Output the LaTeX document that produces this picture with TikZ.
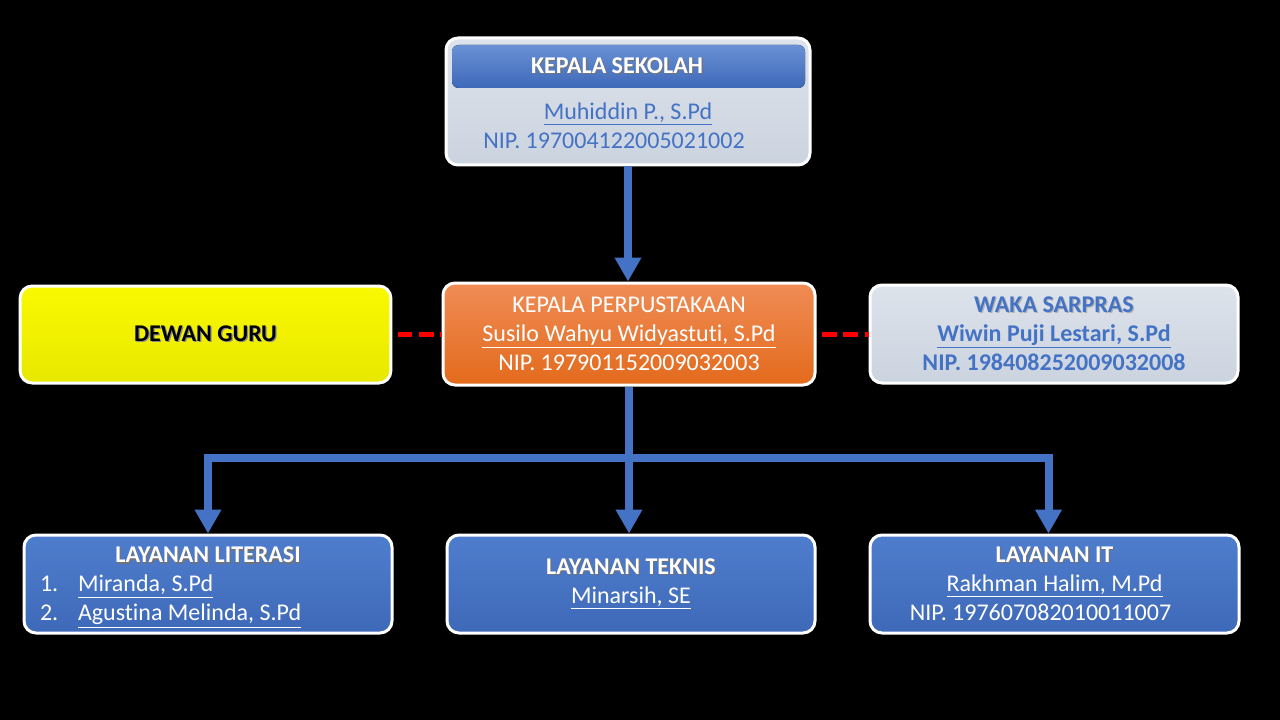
\documentclass[tikz,border=0pt]{standalone}
\usepackage{fontspec}
\setmainfont{Carlito}[Ligatures={NoCommon}]
\usetikzlibrary{arrows.meta,positioning}
\definecolor{sbBlue}{HTML}{4472C4}
\definecolor{sbBlueTop}{HTML}{4F7DCD}
\definecolor{sbBlueBot}{HTML}{3E69B8}
\definecolor{sbGreyTop}{HTML}{DDE3EB}
\definecolor{sbGreyBot}{HTML}{CBD3DF}
\definecolor{sbOrangeTop}{HTML}{EF8C55}
\definecolor{sbOrangeBot}{HTML}{E36A1C}
\definecolor{sbYellowTop}{HTML}{F9F900}
\definecolor{sbYellowBot}{HTML}{E8E800}
\newcommand{\chartfont}{\fontsize{18}{21.75}\selectfont}
\newcommand{\shadowed}[2][black!55]{\leavevmode\rlap{\kern0.9pt\raisebox{-0.9pt}{\textcolor{#1}{#2}}}#2}
\tikzset{
	every node/.style={
		font=\chartfont,
		align=center,
		inner sep=2pt
	},
	unit/.style={
		draw=white,
		line width=2.25pt,
		rounded corners=9pt
	},
	greybox/.style={unit, top color=sbGreyTop, bottom color=sbGreyBot},
	orangebox/.style={unit, top color=sbOrangeTop, bottom color=sbOrangeBot, text=white},
	yellowbox/.style={unit, top color=sbYellowTop, bottom color=sbYellowBot, text=black},
	bluebox/.style={unit, top color=sbBlueTop, bottom color=sbBlueBot, text=white},
	headband/.style={rounded corners=5pt, top color=sbBlueTop!85!white, bottom color=sbBlueBot},
	flow/.style={
		draw=sbBlue,
		line width=6pt,
		-{Triangle[width=19pt,length=18pt]}
	},
	link/.style={
		draw=red,
		line width=3.75pt,
		dash pattern=on 11pt off 5pt,
		dash phase=-4pt
	}
}
\begin{document}
\begin{tikzpicture}[x=0.75pt,y=-0.75pt]
	\fill[black] (0,0) rectangle (1280,720);
	\useasboundingbox (0,0) rectangle (1280,720);

	\node[greybox, minimum width=273pt, minimum height=95.25pt] (ks) at (628,101.5) {};
	\fill[headband] (452,45) rectangle (805,88);
	\node[text=white] (kshead) at (617,66) {\textbf{\shadowed{KEPALA SEKOLAH}}};
	\node[text=sbBlue] (ksname) at (628,125.5) {\underline{Muhiddin P., S.Pd}\\NIP. 197004122005021002\hspace*{21pt}};

	\node[yellowbox, minimum width=278pt, minimum height=72.75pt] (dg) at (205.5,334.5) {\textbf{\shadowed[black!45]{DEWAN GURU}}};
	\node[orangebox, minimum width=279pt, minimum height=76.5pt] (kp) at (629,334) {KEPALA PERPUSTAKAAN\\\underline{Susilo Wahyu Widyastuti, S.Pd}\\NIP. 197901152009032003};
	\node[greybox, text=sbBlue, minimum width=276pt, minimum height=73.5pt] (ws) at (1054,334) {\textbf{\shadowed[black!30]{WAKA SARPRAS}}\\\textbf{\underline{Wiwin Puji Lestari, S.Pd}}\\\textbf{NIP. 198408252009032008}};

	\node[bluebox, minimum width=276pt, minimum height=73.5pt] (ll) at (208,584) {\rule{0pt}{18.5pt}\textbf{\shadowed{LAYANAN LITERASI}}\\\begin{tabular}[t]{@{}p{28.5pt}@{}l@{}}
			1. & \underline{Miranda, S.Pd}\\
			2. & \underline{Agustina Melinda, S.Pd}
		\end{tabular}\hspace*{56pt}};
	\node[bluebox, minimum width=276pt, minimum height=73.5pt] (lt) at (631,584) {\textbf{\shadowed{LAYANAN TEKNIS}}\\\underline{Minarsih, SE}};
	\node[bluebox, minimum width=276.75pt, minimum height=73.5pt] (li) at (1054.5,584) {\textbf{\shadowed{LAYANAN IT}}\\\underline{Rakhman Halim, M.Pd}\\NIP. 197607082010011007\hspace*{21pt}};

	\coordinate (bus) at (629,458);
	\draw[flow] (ks.south) -- (ks.south |- kp.north);
	\draw[flow] (kp.south) -- (kp.south |- lt.north);
	\draw[flow] (bus) -| (ll.north);
	\draw[flow] (bus) -| ([xshift=-4.5pt]li.north);
	\draw[link] (dg.east) -- (dg.east -| kp.west);
	\draw[link] (kp.east) -- (kp.east -| ws.west);
\end{tikzpicture}
\end{document}
